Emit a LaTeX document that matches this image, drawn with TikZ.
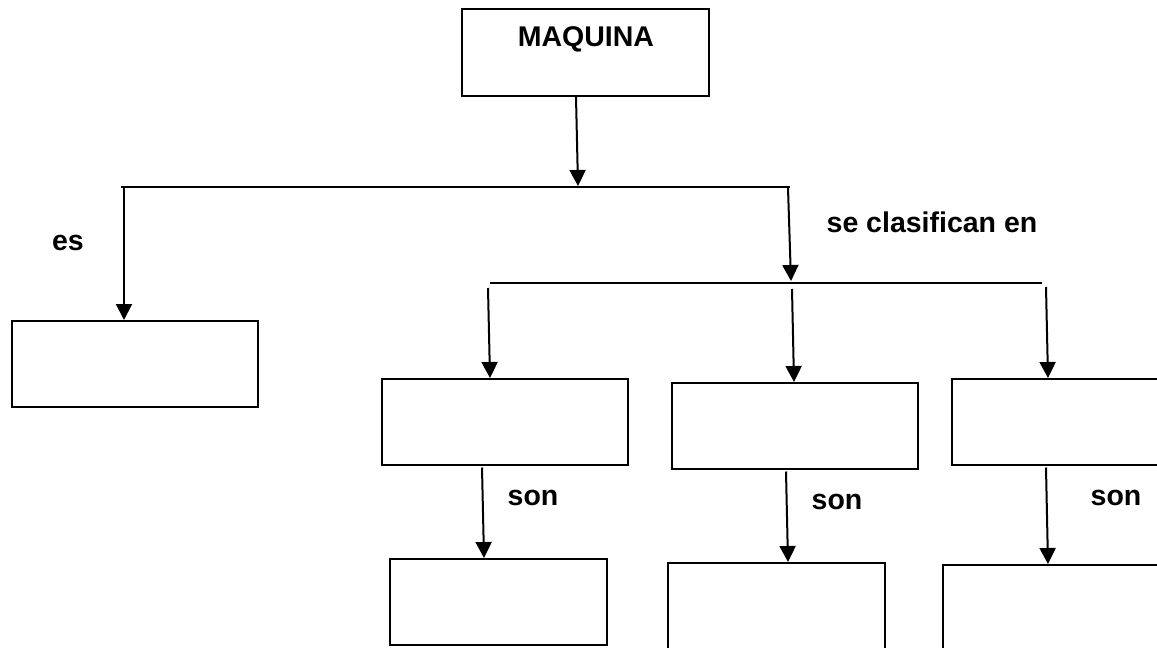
\documentclass[tikz,border=0pt]{standalone}
\usepackage{fontspec}
\setmainfont{Liberation Sans}
\usetikzlibrary{arrows.meta}
\begin{document}
\begin{tikzpicture}[x=1pt,y=-1pt,
  bx/.style={draw,line width=2pt,inner sep=0pt,fill=white},
  ln/.style={line width=2pt},
  arr/.style={line width=2pt,-{Triangle[length=16pt,width=16pt]}},
  lbl/.style={inner sep=0pt,font=\fontsize{28.5}{32}\selectfont\bfseries}]
\useasboundingbox[fill=white] (0,0) rectangle (1157,648);
% boxes
\node[bx,minimum width=247pt,minimum height=87pt] (m) at (585.5,52.5) {};
\node[lbl] (mt) at (586,39) {MAQUINA};
\node[bx,minimum width=246pt,minimum height=86pt] (a) at (135,364) {};
\node[bx,minimum width=246pt,minimum height=86pt] (b) at (505,422) {};
\node[bx,minimum width=246pt,minimum height=86pt] (c) at (795,426) {};
\node[bx,minimum width=246pt,minimum height=86pt] (d) at (1075,422) {};
\node[bx,minimum width=217pt,minimum height=86pt] (e) at (498.5,602) {};
\node[bx,minimum width=217pt,minimum height=90pt] (f) at (776.5,608) {};
\node[bx,minimum width=217pt,minimum height=90pt] (g) at (1051.5,610) {};
% bars
\coordinate (b1l) at (121,187);
\coordinate (b1r) at (790,187);
\coordinate (b1m) at (578,186);
\coordinate (b1a) at (124,187);
\coordinate (b1b) at (788,188);
\coordinate (b2l) at (490,283);
\coordinate (b2r) at (1042,283);
\coordinate (b2t) at (791,281);
\coordinate (b2a) at (488,288);
\coordinate (b2b) at (792,289);
\coordinate (b2c) at (1046,287);
\draw[ln] (b1l) -- (b1r);
\draw[ln] (b2l) -- (b2r);
% connectors
\draw[arr] ([xshift=-9.5pt]m.south) -- (b1m);
\draw[arr] (b1a) -- ([xshift=-11pt]a.north);
\draw[arr] (b1b) -- (b2t);
\draw[arr] (b2a) -- ([xshift=-15pt]b.north);
\draw[arr] (b2b) -- ([xshift=-1pt]c.north);
\draw[arr] (b2c) -- ([xshift=-27pt]d.north);
\draw[arr] ([xshift=-23pt,yshift=-1.5pt]b.south) -- ([xshift=-14.5pt]e.north);
\draw[arr] ([xshift=-9pt,yshift=-1.5pt]c.south) -- ([xshift=11.5pt]f.north);
\draw[arr] ([xshift=-29pt,yshift=-1.5pt]d.south) -- ([xshift=-3.5pt]g.north);
% labels
\node[lbl] (les) at (68,243) {es};
\node[lbl] (lse) at (932,222) {se clasifican en};
\node[lbl] (ls1) at (533,498) {son};
\node[lbl] (ls2) at (837,502) {son};
\node[lbl] (ls3) at (1116,498) {son};
\end{tikzpicture}
\end{document}
